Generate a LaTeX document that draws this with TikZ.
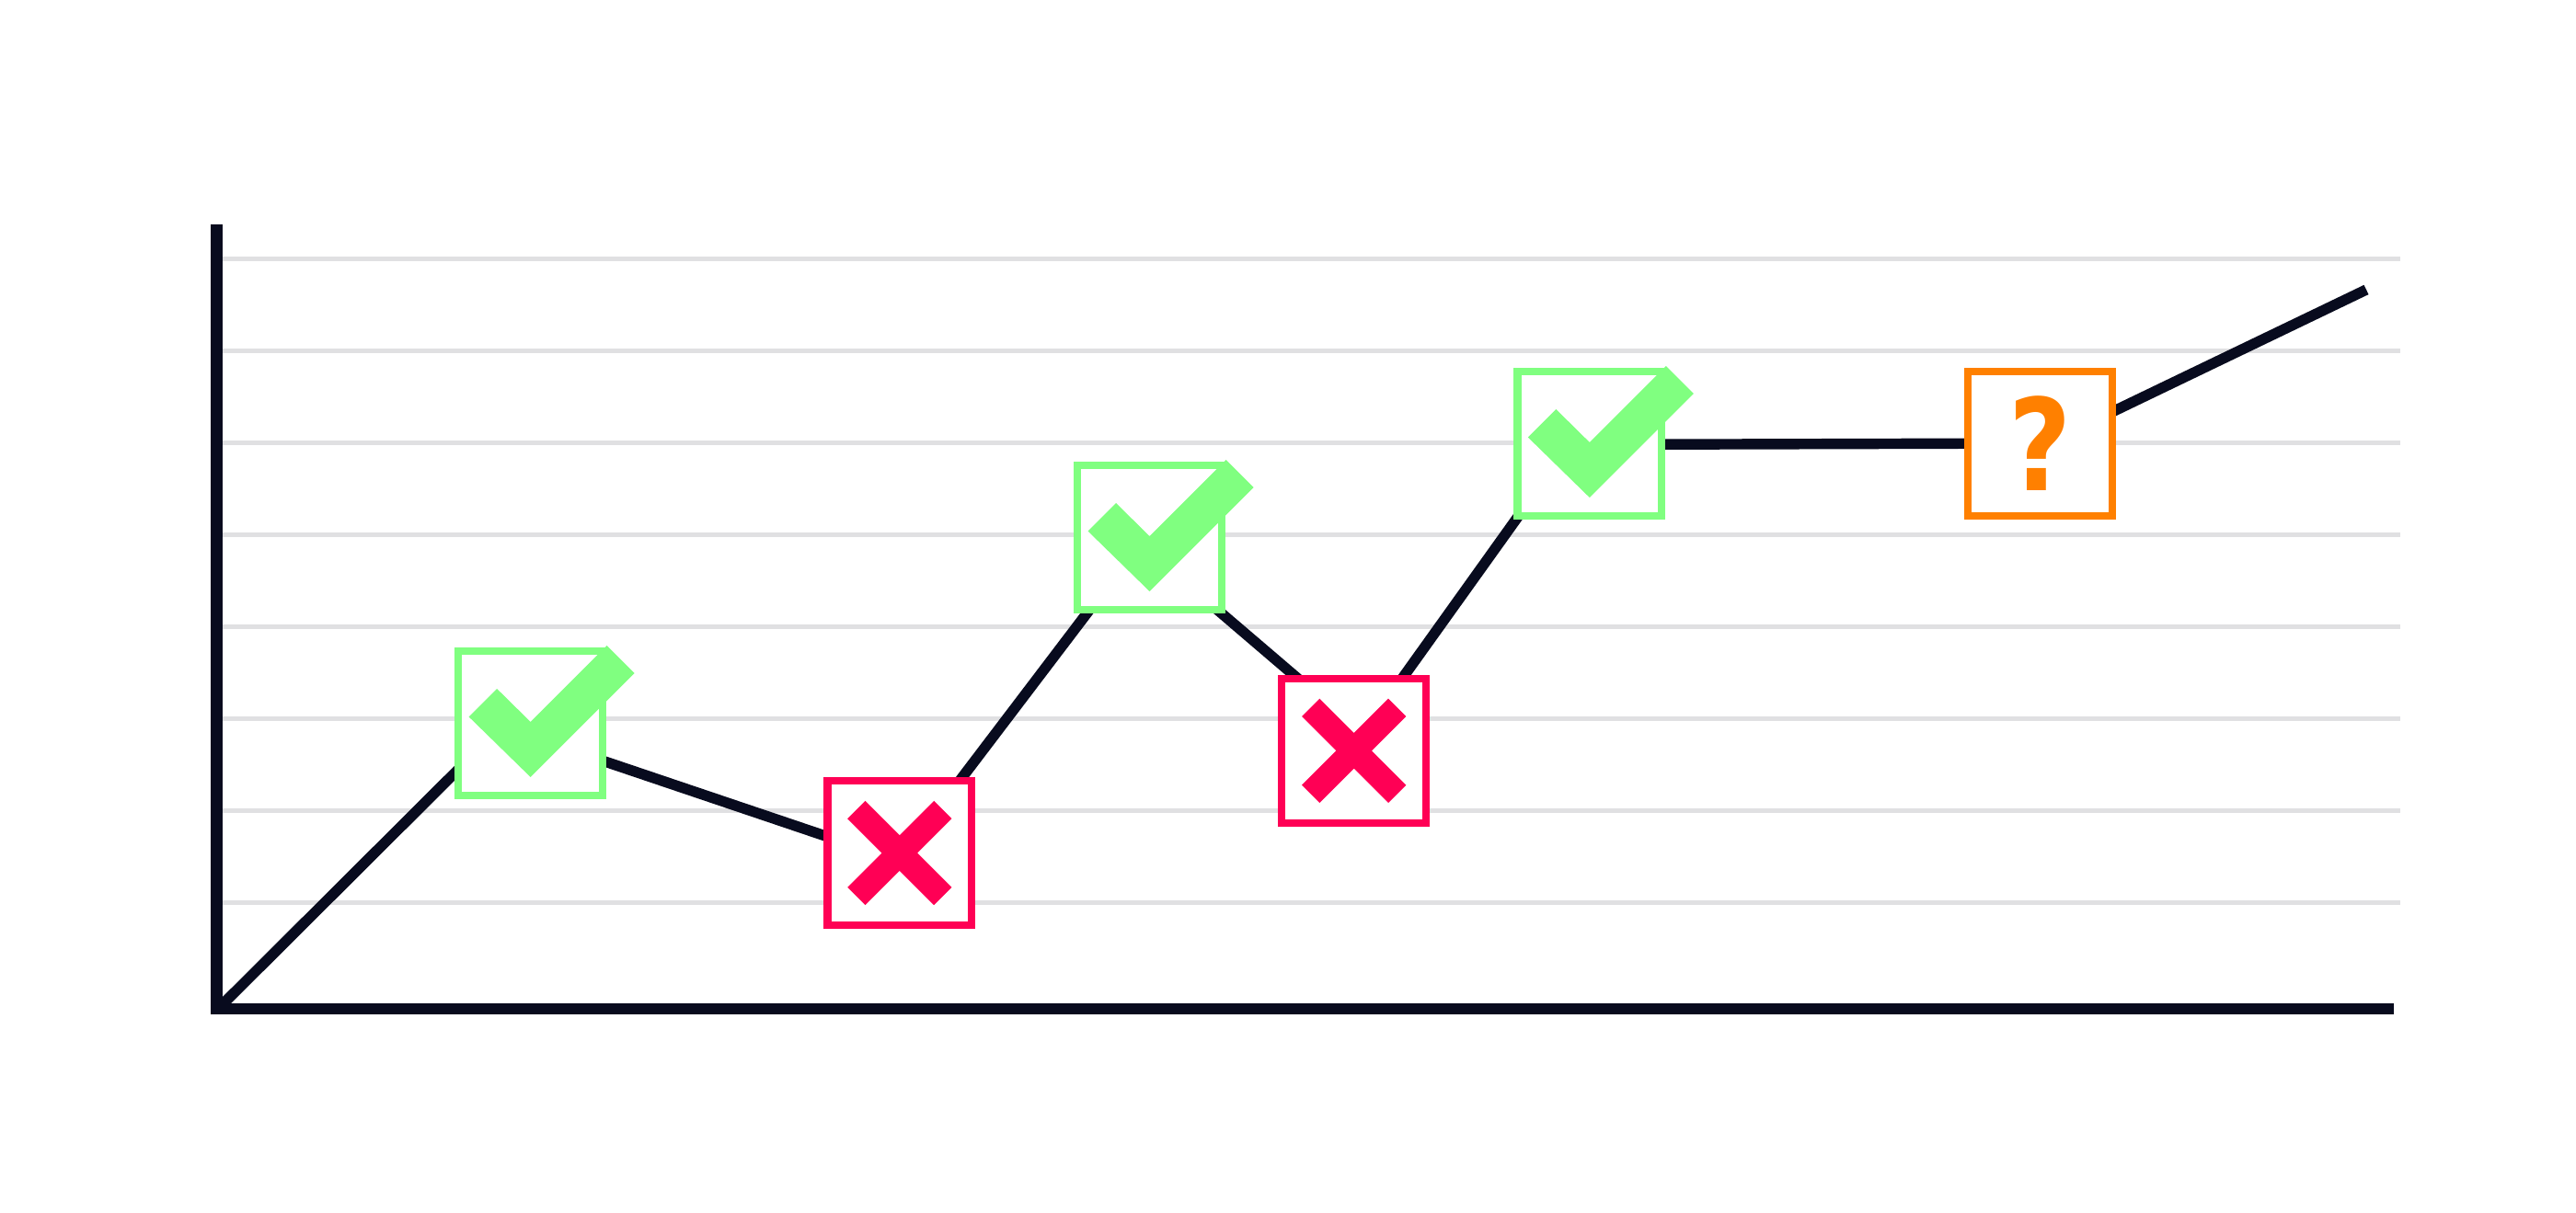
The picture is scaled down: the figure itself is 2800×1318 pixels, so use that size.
\documentclass[tikz,border=0pt]{standalone}
\usepackage{fontspec}
\newfontfamily\qfont{DejaVu Sans}[FakeStretch=0.85]
\definecolor{navy}{RGB}{8,11,30}
\definecolor{gridgray}{RGB}{224,224,226}
\definecolor{okgreen}{RGB}{128,255,128}
\definecolor{badred}{RGB}{255,0,85}
\definecolor{qorange}{RGB}{255,128,0}
\tikzset{
  gridline/.style={draw=gridgray, line width=1.42pt},
  axisline/.style={draw=navy, line width=3.6pt, line cap=butt},
  dataline/.style={draw=navy, line width=3.25pt, line cap=butt, line join=miter},
  markbox/.style={draw, fill=white, line width=2.37pt, minimum width=1.567cm, minimum height=1.567cm, inner sep=0pt, outer sep=0pt},
  okbox/.style={markbox, draw=okgreen},
  badbox/.style={markbox, draw=badred},
  qbox/.style={markbox, draw=qorange, text=qorange, font=\qfont\bfseries\fontsize{39.4}{40}\selectfont},
  okmark/.style={fill=okgreen},
  badmark/.style={draw=badred, line width=7.77pt, line cap=butt}
}
\begin{document}
\begin{tikzpicture}[x=0.01cm, y=-0.01cm]
\useasboundingbox (0,0) rectangle (2800,1318);
\fill[white] (0,0) rectangle (2800,1318);
% grid
\foreach \k in {0,...,7} {
  \draw[gridline] (242,{281.5+100*\k}) -- (2609,{281.5+100*\k});
}
% data line vertices
\coordinate (p0) at (236,1098);
\coordinate (p1) at (545,790);
\coordinate (p2) at (977,936);
\coordinate (p3) at (1239,591);
\coordinate (p4) at (1481,798);
\coordinate (p5) at (1706,483.5);
\coordinate (p6) at (2225,482);
\coordinate (p7) at (2572,315);
\draw[dataline] (p0) -- (p1) -- (p2) -- (p3) -- (p4) -- (p5) -- (p6) -- (p7);
% axes
\coordinate (ytop) at (235.5,244);
\coordinate (ybot) at (235.5,1103.3);
\coordinate (xl) at (229,1097);
\coordinate (xr) at (2602,1097);
\draw[axisline] (ytop) -- (ybot);
\draw[axisline] (xl) -- (xr);
% boxes
\node[okbox] (c1) at (576.7,786.5) {};
\node[badbox] (x1) at (977.8,927.5) {};
\node[okbox] (c2) at (1249.5,584.5) {};
\node[badbox] (x2) at (1471.7,816.3) {};
\node[okbox] (c3) at (1727.8,482.5) {};
\node[qbox] (q) at (2217.5,482.5) {?};
% check marks
\foreach \n in {c1,c2,c3} {
  \fill[okmark, shift={(\n)}] (-67,-7) -- (0,58.5) -- (113,-54.5) -- (83,-84.5) -- (0,-1.5) -- (-36.5,-37.5) -- cycle;
}
% crosses
\foreach \n in {x1,x2} {
  \draw[badmark, shift={(\n)}] (-47,-47) -- (47,47) (-47,47) -- (47,-47);
}
\end{tikzpicture}
\end{document}
